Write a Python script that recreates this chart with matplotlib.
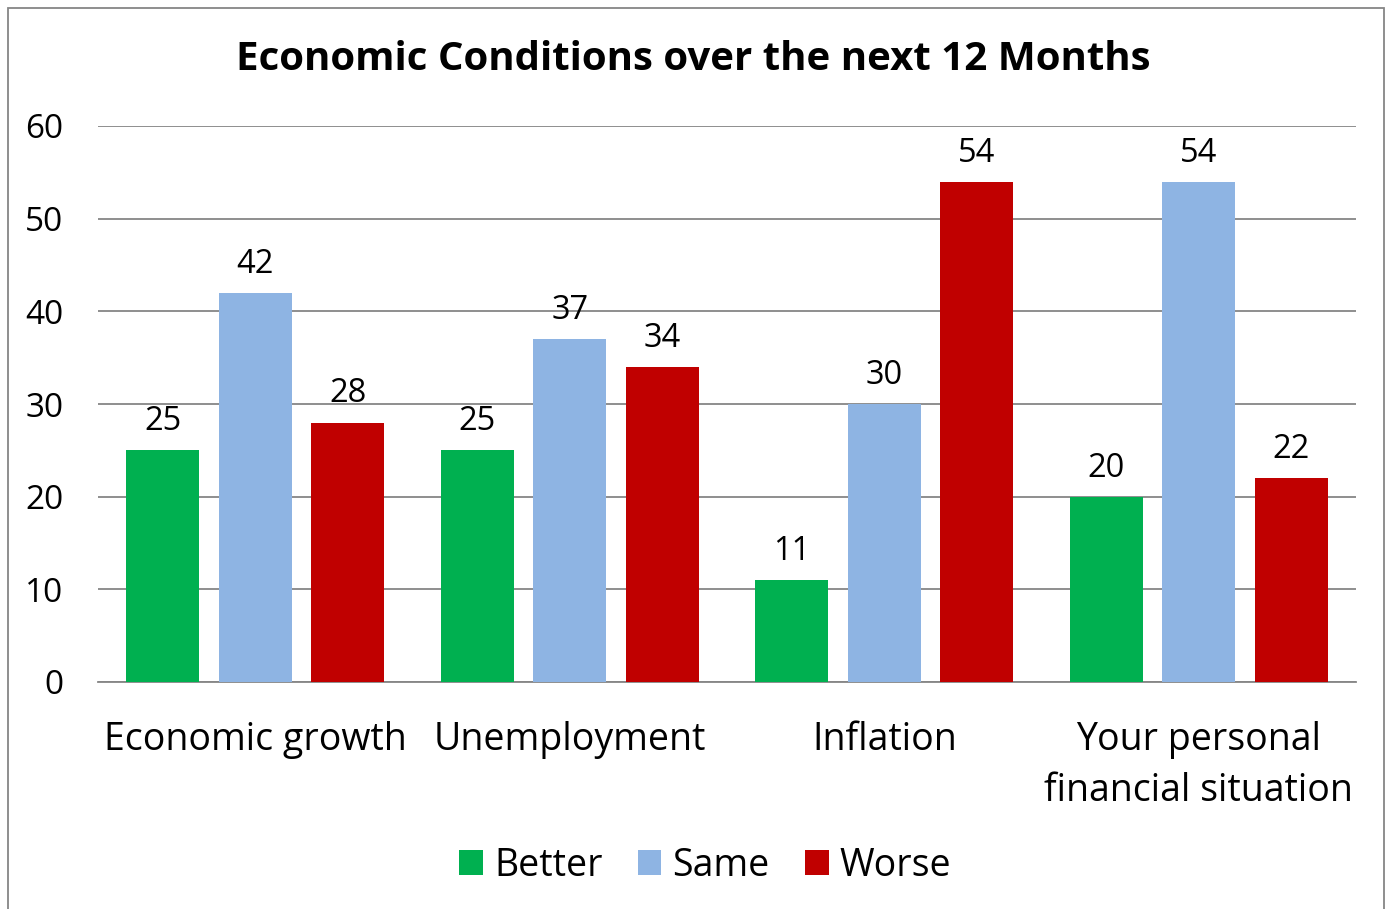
import matplotlib
matplotlib.use("Agg")
import matplotlib.pyplot as plt
from matplotlib.patches import Rectangle
import numpy as np

plt.rcParams['font.family'] = ['Open Sans', 'DejaVu Sans']

categories = ['Economic growth', 'Unemployment', 'Inflation', 'Your personal\nfinancial situation']
series = ['Better', 'Same', 'Worse']
better = [25, 25, 11, 20]
same = [42, 37, 30, 54]
worse = [28, 34, 54, 22]
colors = ['#00B050', '#8EB4E3', '#C00000']

fig = plt.figure(figsize=(13.86, 9.09), dpi=100)
ax = fig.add_axes([98/1386, 1-682/909, (1356-98)/1386, (682-126)/909])

x = np.arange(len(categories))
width = 0.232
step = 0.294
for i, (vals, name) in enumerate(zip([better, same, worse], series)):
    bars = ax.bar(x + (i-1)*step, vals, width, color=colors[i], label=name, zorder=3)
    for b, v in zip(bars, vals):
        ax.text(b.get_x() + b.get_width()/2, v + 1.3, str(v), ha='center', va='bottom',
                fontsize=23.5, zorder=4)

ax.set_xlim(-0.5, 3.5)
ax.set_ylim(0, 60)
ax.set_yticks(range(0, 61, 10))
ax.yaxis.grid(True, color='#868686', linewidth=1.3, zorder=0)
for s in ['top', 'right', 'left']:
    ax.spines[s].set_visible(False)
ax.spines['bottom'].set_color('#868686')
ax.spines['bottom'].set_linewidth(1.3)
ax.tick_params(axis='both', length=0)
ax.tick_params(axis='y', labelsize=24, pad=25)
ax.set_xticks(x)
ax.set_xticklabels(categories, fontsize=27, linespacing=1.45, va='top')
ax.tick_params(axis='x', pad=28)

fig.text(0.5, 1-59/909, 'Economic Conditions over the next 12 Months', ha='center', va='center',
         fontsize=29, fontweight='bold')

fig.legend(loc='center', bbox_to_anchor=(0.509, 1-866/909), ncol=3, frameon=False,
           fontsize=27, handlelength=0.62, handleheight=0.65, handletextpad=0.3, columnspacing=0.95)

# outer chart border
fig.add_artist(Rectangle((8/1386, -0.01), (1384-8)/1386, (1-8/909)+0.01, transform=fig.transFigure,
                         fill=False, edgecolor='#868686', linewidth=1.3))

fig.savefig('out.png', dpi=100)
